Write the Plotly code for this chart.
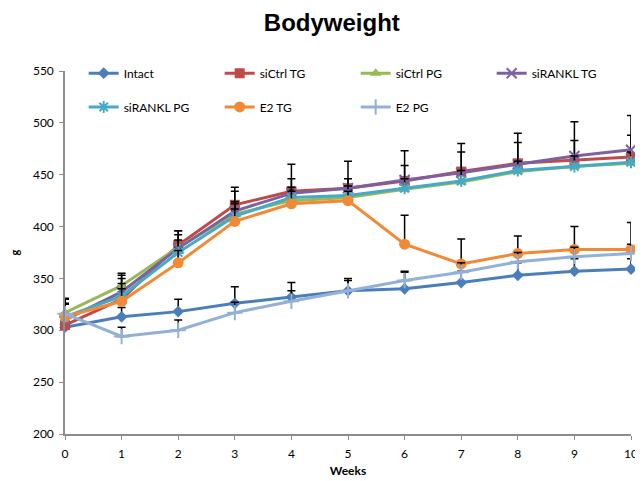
import plotly.graph_objects as go

weeks = [0, 1, 2, 3, 4, 5, 6, 7, 8, 9, 10]

intact = [303, 313, 318, 326, 332, 338, 340, 346, 353, 357, 359]
sictrl_tg = [305, 330, 382, 421, 434, 437, 444, 453, 461, 464, 467]
sictrl_pg = [317, 343, 380, 412, 425, 428, 436, 443, 453, 458, 461]
sirankl_tg = [310, 337, 379, 415, 432, 437, 445, 452, 460, 468, 474]
sirankl_pg = [313, 333, 375, 410, 428, 430, 437, 444, 454, 458, 462]
e2_tg = [313, 328, 365, 405, 422, 425, 383, 364, 374, 378, 378]
e2_pg = [316, 294, 300, 317, 328, 338, 348, 356, 366, 371, 374]

err_intact = [28, 9, 12, 16, 14, 12, 16, 11, 12, 12, 10]
err_sictrl_tg = [25, 20, 14, 17, 12, 9, 15, 19, 20, 19, 21]
err_sictrl_pg = [13, 10, 12, 12, 10, 8, 9, 10, 9, 10, 10]
err_sirankl_tg = [20, 18, 17, 19, 28, 26, 28, 28, 30, 33, 33]
err_sirankl_pg = [12, 12, 12, 12, 10, 9, 9, 10, 9, 10, 10]
err_e2_tg = [12, 12, 12, 12, 12, 9, 28, 24, 17, 22, 26]
err_e2_pg = [10, 9, 10, 10, 10, 10, 9, 9, 9, 9, 9]

names = ["Intact", "siCtrl TG", "siCtrl PG", "siRANKL TG", "siRANKL PG", "E2 TG", "E2 PG"]
series = [intact, sictrl_tg, sictrl_pg, sirankl_tg, sirankl_pg, e2_tg, e2_pg]
errors = [err_intact, err_sictrl_tg, err_sictrl_pg, err_sirankl_tg, err_sirankl_pg, err_e2_tg, err_e2_pg]
colors = ["#4A7EBB", "#BE4B48", "#98B954", "#7D60A0", "#46AAC5", "#F08A37", "#93B1D6"]
symbols = ["diamond", "square", "triangle-up", "x-thin", "asterisk-open", "circle", "cross-thin"]
sizes = [9, 10, 10, 10, 10, 11, 11]
legends = ["legend", "legend", "legend", "legend", "legend2", "legend2", "legend2"]

FONT = "Lato, Liberation Sans, sans-serif"

fig = go.Figure()
for n, y, e, c, s, sz, lg in zip(names, series, errors, colors, symbols, sizes, legends):
    thin = s.endswith("-thin") or s.startswith("asterisk")
    fig.add_trace(go.Scatter(
        x=weeks, y=y, name=n, mode="lines+markers",
        line=dict(color=c, width=3),
        marker=dict(symbol=s, size=sz, color=c,
                    line=dict(color=c, width=2 if thin else 0)),
        error_y=dict(type="data", array=e, arrayminus=[0] * len(e), symmetric=False,
                     color="black", thickness=1.5, width=4),
        cliponaxis=False,
        legend=lg,
    ))

leg_common = dict(orientation="h", xanchor="left", yanchor="middle",
                  entrywidth=91, entrywidthmode="pixels", bgcolor="rgba(0,0,0,0)",
                  font=dict(family=FONT, size=12, color="black"), traceorder="normal")

fig.update_layout(
    width=635, height=473,
    paper_bgcolor="white", plot_bgcolor="white",
    margin=dict(l=57, r=5, t=63, b=47),
    title=dict(text="<b>Bodyweight</b>", x=0.51, xanchor="center", y=0.97, yanchor="middle",
               font=dict(family="Liberation Sans, Arial, sans-serif", size=24, color="black")),
    font=dict(family=FONT, size=12, color="black"),
    showlegend=True,
    legend=dict(x=0.033, y=0.994, **leg_common),
    legend2=dict(x=0.033, y=0.901, **leg_common),
    xaxis=dict(range=[0, 10], tickmode="array", tickvals=weeks, ticks="outside", ticklen=4,
               tickcolor="#8C8C8C", showline=True, linecolor="#8C8C8C", linewidth=1.5,
               showgrid=False, zeroline=False, ticklabeloverflow="allow", ticklabelstandoff=4,
               title=dict(text="<b>Weeks</b>", font=dict(family=FONT, size=12), standoff=6)),
    yaxis=dict(range=[200, 550], tickmode="array", tickvals=[200, 250, 300, 350, 400, 450, 500, 550],
               ticks="outside", ticklen=4, tickcolor="#8C8C8C", showline=True, linecolor="#8C8C8C",
               linewidth=1.5, showgrid=False, zeroline=False, ticklabelstandoff=3,
               title=dict(text="<b>g</b>", font=dict(family=FONT, size=11), standoff=12)),
)

fig.write_html("out.html")
